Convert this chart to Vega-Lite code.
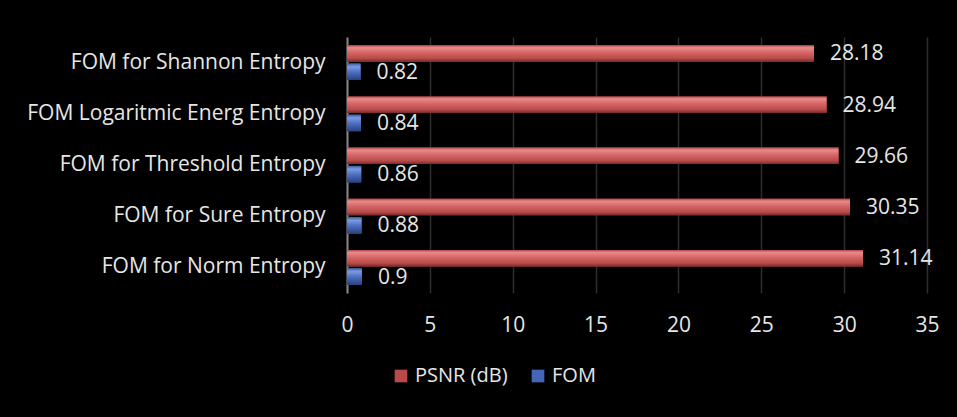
{
  "$schema": "https://vega.github.io/schema/vega-lite/v6.json",
  "autosize": {"type": "none"},
  "width": 580,
  "height": 256,
  "padding": {"left": 347, "top": 37, "right": 30, "bottom": 124},
  "background": "#000000",
  "config": {
    "view": {"stroke": null},
    "font": "Open Sans"
  },
  "data": {
    "values": [
      {"category": "FOM for Shannon Entropy", "series": "PSNR (dB)", "value": 28.18},
      {"category": "FOM for Shannon Entropy", "series": "FOM", "value": 0.82},
      {"category": "FOM Logaritmic Energ Entropy", "series": "PSNR (dB)", "value": 28.94},
      {"category": "FOM Logaritmic Energ Entropy", "series": "FOM", "value": 0.84},
      {"category": "FOM for Threshold Entropy", "series": "PSNR (dB)", "value": 29.66},
      {"category": "FOM for Threshold Entropy", "series": "FOM", "value": 0.86},
      {"category": "FOM for Sure Entropy", "series": "PSNR (dB)", "value": 30.35},
      {"category": "FOM for Sure Entropy", "series": "FOM", "value": 0.88},
      {"category": "FOM for Norm Entropy\u00a0", "series": "PSNR (dB)", "value": 31.14},
      {"category": "FOM for Norm Entropy\u00a0", "series": "FOM", "value": 0.9}
    ]
  },
  "encoding": {
    "y": {
      "field": "category",
      "type": "nominal",
      "sort": ["FOM for Shannon Entropy", "FOM Logaritmic Energ Entropy", "FOM for Threshold Entropy", "FOM for Sure Entropy", "FOM for Norm Entropy\u00a0"],
      "scale": {"paddingInner": 0.32, "paddingOuter": 0.16},
      "axis": {
        "title": null,
        "ticks": false,
        "grid": false,
        "domainColor": "#868686",
        "domainWidth": 2,
        "labelColor": "#e6e6e6",
        "labelFontSize": 21,
        "labelPadding": 22,
        "labelLimit": 400
      }
    },
    "yOffset": {
      "field": "series",
      "type": "nominal",
      "sort": ["PSNR (dB)", "FOM"],
      "scale": {"domain": ["PSNR (dB)", "FOM"], "paddingInner": 0.1}
    },
    "x": {
      "field": "value",
      "type": "quantitative",
      "scale": {"domain": [0, 35], "nice": false},
      "axis": {
        "title": null,
        "values": [0, 5, 10, 15, 20, 25, 30, 35],
        "domain": false,
        "ticks": false,
        "grid": true,
        "gridColor": "#2e2e2e",
        "gridWidth": 1.5,
        "labelColor": "#e6e6e6",
        "labelFontSize": 21,
        "labelPadding": 21,
        "labelFlush": false
      }
    }
  },
  "layer": [
    {
      "mark": {"type": "bar"},
      "encoding": {
        "color": {
          "field": "series",
          "type": "nominal",
          "scale": {
            "domain": ["PSNR (dB)", "FOM"],
            "range": ["#b84a4a", "#4466b8"]
          },
          "legend": {
            "title": null,
            "orient": "none",
            "legendX": 44,
            "legendY": 329,
            "direction": "horizontal",
            "symbolType": "square",
            "symbolSize": 160,
            "symbolStrokeWidth": 0,
            "labelColor": "#e6e6e6",
            "labelFontSize": 20,
            "labelOffset": 4,
            "columnPadding": 20
          }
        }
      }
    },
    {
      "transform": [{"filter": "datum.series === 'PSNR (dB)'"}],
      "mark": {
        "type": "bar",
        "color": {"gradient": "linear", "x1": 0, "y1": 0, "x2": 0, "y2": 1, "stops": [
          {"offset": 0, "color": "#b04848"},
          {"offset": 0.15, "color": "#e88a8a"},
          {"offset": 0.45, "color": "#d66666"},
          {"offset": 0.8, "color": "#b84a4a"},
          {"offset": 1, "color": "#7a2a2a"}
        ]}
      },
      "encoding": {}
    },
    {
      "transform": [{"filter": "datum.series === 'FOM'"}],
      "mark": {
        "type": "bar",
        "color": {"gradient": "linear", "x1": 0, "y1": 0, "x2": 0, "y2": 1, "stops": [
          {"offset": 0, "color": "#3f5fa8"},
          {"offset": 0.2, "color": "#7a9ae0"},
          {"offset": 0.5, "color": "#4f72c4"},
          {"offset": 1, "color": "#2a4080"}
        ]}
      },
      "encoding": {}
    },
    {
      "mark": {"type": "text", "align": "left", "baseline": "middle", "dx": 16, "dy": 1, "color": "#e6e6e6", "fontSize": 21},
      "encoding": {
        "text": {"field": "value", "type": "quantitative"}
      }
    }
  ]
}
